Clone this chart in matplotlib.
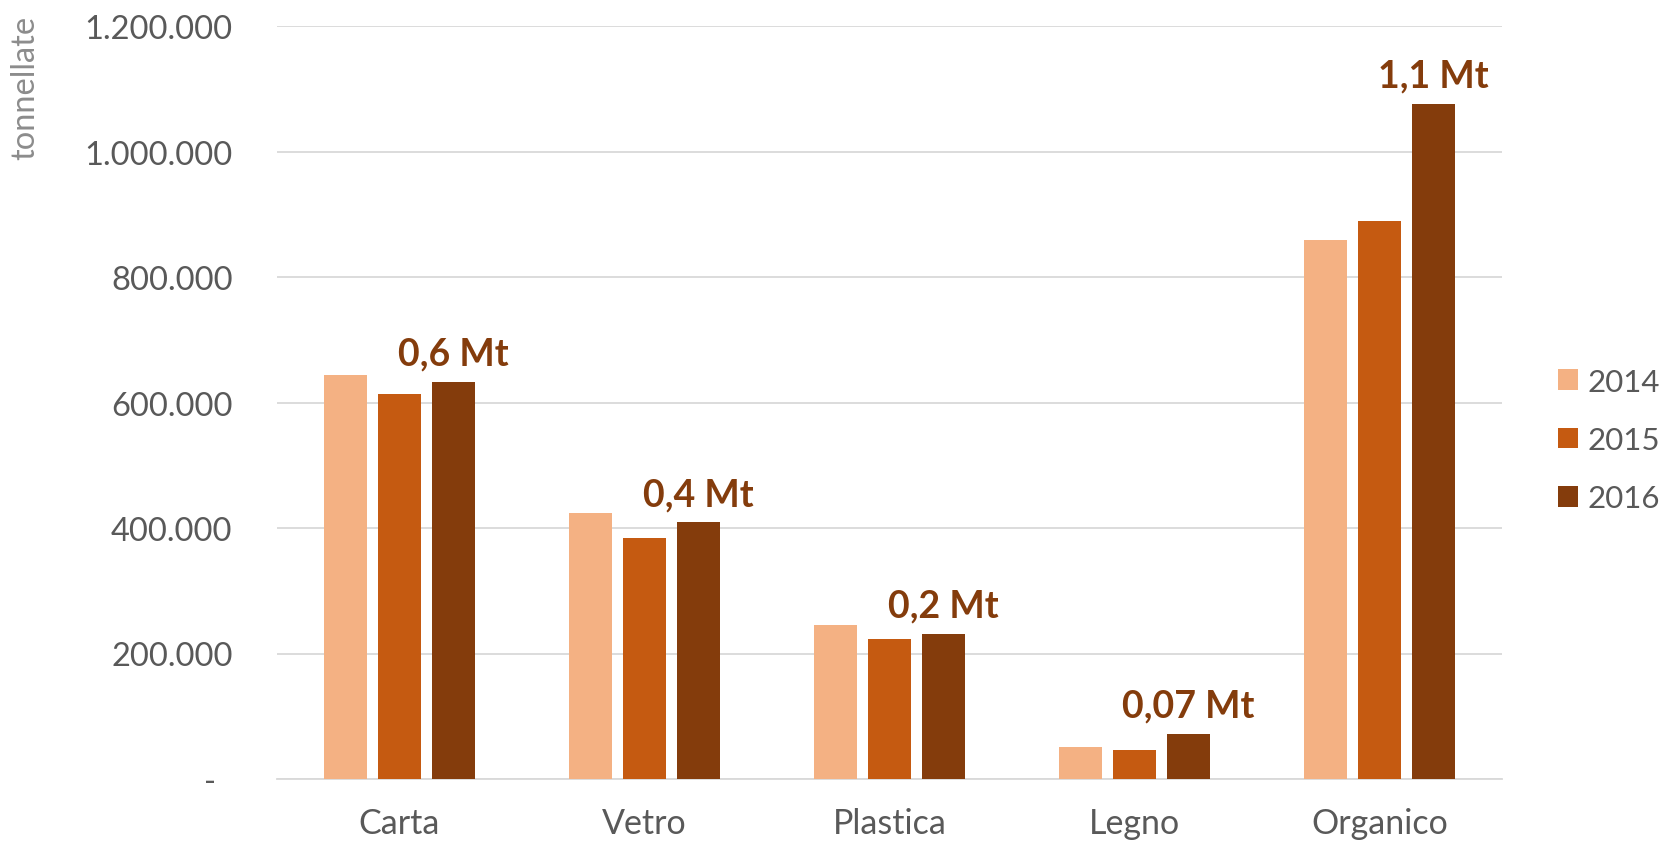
import matplotlib
matplotlib.use("Agg")
import matplotlib.pyplot as plt
import numpy as np
from matplotlib.ticker import FuncFormatter, MultipleLocator

categories = ["Carta", "Vetro", "Plastica", "Legno", "Organico"]
years = ["2014", "2015", "2016"]
v2014 = [644000, 424000, 245000, 51000, 859000]
v2015 = [614000, 384000, 223000, 47000, 889000]
v2016 = [633000, 409000, 231000, 72000, 1076000]
labels2016 = ["0,6 Mt", "0,4 Mt", "0,2 Mt", "0,07 Mt", "1,1 Mt"]
colors = ["#F4B183", "#C55A11", "#843C0C"]

plt.rcParams['font.family'] = ['Lato', 'DejaVu Sans']

fig = plt.figure(figsize=(16.65, 8.45), dpi=100)
ax = fig.add_axes([277/1665, 1-780/845, (1502-277)/1665, (780-27)/845])

x = np.arange(len(categories))
w = 0.175
off = 0.22
series = [v2014, v2015, v2016]
for i, (vals, col, yr) in enumerate(zip(series, colors, years)):
    ax.bar(x + (i-1)*off, vals, width=w, color=col, label=yr, zorder=3)

for xi, v, lab in zip(x, v2016, labels2016):
    ax.annotate(lab, (xi + off, v), xytext=(0, 8), textcoords="offset points",
                ha="center", va="bottom", fontsize=27, fontweight="bold",
                color="#843C0C", zorder=4)

ax.set_xlim(-0.5, 4.5)
ax.set_ylim(0, 1200000)
ax.yaxis.set_major_locator(MultipleLocator(200000))

def fmt(v, pos):
    if v == 0:
        return "-  "
    return f"{int(round(v)):,}".replace(",", ".")
ax.yaxis.set_major_formatter(FuncFormatter(fmt))

ax.grid(axis="y", color="#D9D9D9", linewidth=1.3, zorder=0)
for s in ["top", "right", "left"]:
    ax.spines[s].set_visible(False)
ax.spines["bottom"].set_color("#D9D9D9")
ax.spines["bottom"].set_linewidth(1.3)
ax.tick_params(axis="y", length=0, pad=32, labelsize=23.5, labelcolor="#595959")
ax.tick_params(axis="x", length=0, pad=20, labelsize=24.5, labelcolor="#595959")
ax.set_xticks(x)
ax.set_xticklabels(categories)

fig.text(25/1665, 1-88/845, "tonnellate", rotation=90, ha="center", va="center",
         fontsize=23.5, color="#8C8C8C")

leg = fig.legend(loc="center left", bbox_to_anchor=(1558/1665, 1-441/845),
                 frameon=False, fontsize=22.5, labelcolor="#595959",
                 handlelength=0.64, handleheight=0.64, handletextpad=0.3,
                 labelspacing=0.97, borderpad=0, borderaxespad=0)

fig.savefig("out.png", dpi=100, facecolor="white")
